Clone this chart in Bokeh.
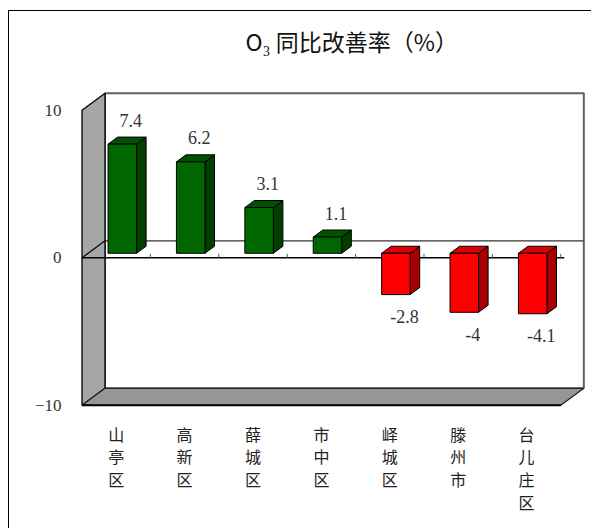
from bokeh.plotting import figure
from bokeh.models import FixedTicker, Title, ColumnDataSource, Range1d
from bokeh.core.properties import value
from bokeh.embed import file_html
from bokeh.resources import INLINE

# ---------------- data ----------------
categories = ["山亭区", "高新区", "薛城区", "市中区", "峄城区", "滕州市", "台儿庄区"]
rates = [7.4, 6.2, 3.1, 1.1, -2.8, -4.0, -4.1]
rate_labels = ["7.4", "6.2", "3.1", "1.1", "-2.8", "-4", "-4.1"]
y_ticks = [-10, 0, 10]
title_text = "O₃ 同比改善率（%）"

# ---------------- layout / style constants ----------------
N = len(categories)
Y_LO, Y_HI = -10, 10
PX_X = 68.4        # px per category
PX_Y = 14.75       # px per unit
DX = 23 / PX_X     # depth of box, x (data units)
DY = 17 / PX_Y     # depth of box, y (data units)
F0, F1 = 0.265, 0.68   # bar front/back depth fractions
BAR_W = 0.417
LABEL_DX = 0.125

W, H = 583, 518
FRAME_L, FRAME_T, FRAME_B = 71, 51, 398   # canvas px
ZERO_PX = 246.3                           # canvas px of front zero line
x_start = -0.5 - 1.5 / PX_X
x_end = x_start + (W - FRAME_L) / PX_X
y_end = (ZERO_PX - FRAME_T) / PX_Y
y_start = y_end - (FRAME_B - FRAME_T) / PX_Y

p = figure(width=W, height=H, output_backend="svg", toolbar_location=None,
           x_range=Range1d(x_start, x_end), y_range=Range1d(y_start, y_end),
           min_border_left=FRAME_L, min_border_right=0, min_border_top=FRAME_T,
           min_border_bottom=H - FRAME_B, outline_line_color=None,
           background_fill_color="white", border_fill_color="white")
p.styles = {"margin-left": "8px", "margin-top": "10px",
            "border-top": "1px solid #000000", "border-left": "1px solid #000000"}
p.grid.visible = False

p.title = Title(text=title_text, align="left", offset=165, standoff=10,
                text_font="Noto Sans CJK SC", text_font_size="23px",
                text_font_style="normal", text_color="#111111")

# axes
ya = p.yaxis[0]
ya.ticker = FixedTicker(ticks=y_ticks)
ya.axis_line_color = None
ya.major_tick_line_color = None
ya.minor_tick_line_color = None
ya.major_label_standoff = 13
ya.major_label_text_font = "Liberation Serif"
ya.major_label_text_font_size = "17px"
ya.major_label_text_color = "#333333"

xa = p.xaxis[0]
xa.ticker = FixedTicker(ticks=list(range(N)))
xa.major_label_overrides = {i: "\n".join(c) for i, c in enumerate(categories)}
xa.axis_line_color = None
xa.major_tick_line_color = None
xa.minor_tick_line_color = None
xa.major_label_standoff = 6
xa.major_label_text_font = "Noto Sans CJK SC"
xa.major_label_text_font_size = "16px"
xa.major_label_text_line_height = 0.95
xa.major_label_text_color = "#222222"

L = -0.5
R = N - 0.5

# back wall
p.quad(left=[L + DX], right=[R + DX], bottom=[Y_LO + DY], top=[Y_HI + DY],
       fill_color="white", line_color="#606060", line_width=2)
# back zero line
p.segment(x0=[L + DX], y0=[DY], x1=[R + DX], y1=[DY], line_color="#333333", line_width=1.3)
# side wall
p.patch([L, L, L + DX, L + DX], [Y_LO, Y_HI, Y_HI + DY, Y_LO + DY],
        fill_color="#A6A6A6", line_color="#000000", line_width=1.3)
# floor
p.patch([L, R, R + DX, L + DX], [Y_LO, Y_LO, Y_LO + DY, Y_LO + DY],
        fill_color="#969696", line_color="#222222", line_width=1.3)
p.segment(x0=[L], y0=[Y_LO], x1=[R], y1=[Y_LO], line_color="#000000", line_width=2)
# zero diagonal on side wall
p.segment(x0=[L], y0=[0], x1=[L + DX], y1=[DY], line_color="#000000", line_width=1.2)
# front zero line + ticks
p.segment(x0=[L], y0=[0], x1=[R + 0.05], y1=[0], line_color="#000000", line_width=1.5)
bounds = [k + 0.5 for k in range(N)]
p.segment(x0=bounds, y0=[0] * N, x1=bounds, y1=[4 / PX_Y] * N, line_color="#555555", line_width=1)

# bars
front = dict(l=[], r=[], b=[], t=[], c=[])
tops_x, tops_y, sides_x, sides_y, top_c, side_c = [], [], [], [], [], []
bx = (F1 - F0) * DX
by = (F1 - F0) * DY
for i, v in enumerate(rates):
    x0 = i - BAR_W / 2 + F0 * DX
    x1 = x0 + BAR_W
    y0 = F0 * DY
    y1 = v + F0 * DY
    bot, top = min(y0, y1), max(y0, y1)
    pos = v >= 0
    front["l"].append(x0); front["r"].append(x1)
    front["b"].append(bot); front["t"].append(top)
    front["c"].append("#006600" if pos else "#FF0000")
    tops_x.append([x0, x1, x1 + bx, x0 + bx]); tops_y.append([top, top, top + by, top + by])
    sides_x.append([x1, x1, x1 + bx, x1 + bx]); sides_y.append([bot, top, top + by, bot + by])
    top_c.append("#005200" if pos else "#D80000")
    side_c.append("#003F00" if pos else "#A80000")

p.patches(sides_x, sides_y, fill_color=side_c, line_color="#000000", line_width=1)
p.patches(tops_x, tops_y, fill_color=top_c, line_color="#000000", line_width=1)
p.quad(left=front["l"], right=front["r"], bottom=front["b"], top=front["t"],
       fill_color=front["c"], line_color="#000000", line_width=1)

# value labels
lab = ColumnDataSource(dict(
    x=[i + F0 * DX + LABEL_DX for i in range(N)],
    y=[v + F0 * DY for v in rates],
    t=rate_labels,
    off=[-24 if v >= 0 else 22 for v in rates],
))
p.text(x="x", y="y", text="t", y_offset="off", source=lab, text_align="center",
       text_baseline="middle", text_font=value("Liberation Serif"),
       text_font_size="18px", text_color="#333333")

open("out.html", "w").write(file_html(p, INLINE))
